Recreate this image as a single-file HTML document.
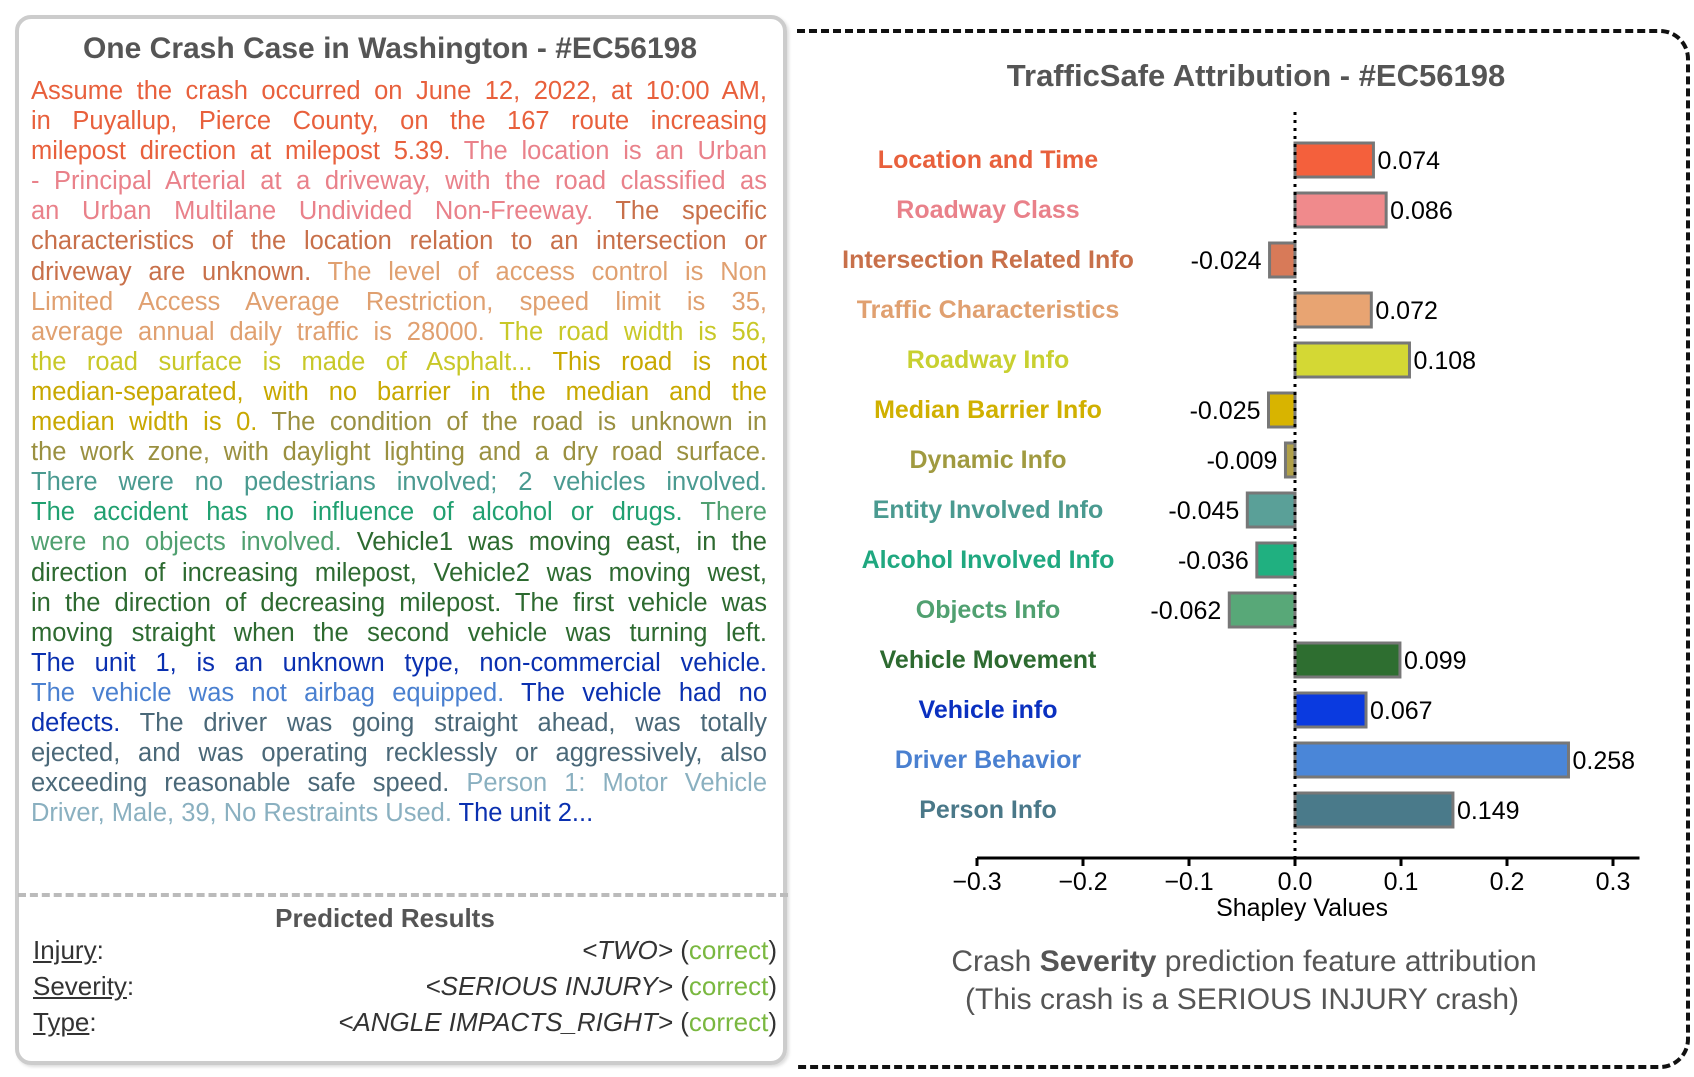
<!DOCTYPE html>
<html><head><meta charset="utf-8"><style>
body{margin:0;width:1694px;height:1077px;background:#fff;position:relative;overflow:hidden;font-family:"Liberation Sans",sans-serif}
#left{position:absolute;left:15px;top:15px;width:772px;height:1050px;border:4px solid #ccc;border-radius:16px;box-sizing:border-box;box-shadow:2px 2px 3px #ddd}
#ltitle{position:absolute;left:0;width:780px;top:32px;text-align:center;font-size:30px;font-weight:bold;color:#555}
#story{position:absolute;left:31px;top:76px;width:736px;font-size:25.5px;line-height:30.1px}
#story div{text-align:justify;text-align-last:justify;white-space:nowrap;height:30.1px}
#story div.last{text-align-last:left}
#divider{position:absolute;left:18px;top:893px;width:770px;border-top:4px dashed #bbb}
#pr{position:absolute;left:0;width:770px;top:903px;text-align:center;font-size:26px;font-weight:bold;color:#555}
.row{position:absolute;left:33px;width:744px;font-size:26px;color:#333;display:flex;justify-content:space-between}
.row u{text-decoration:underline}
.row i{font-style:italic}
.ok{color:#7ab840}
#right{position:absolute;left:797px;top:29px;width:893px;height:1040px;border:4px dashed #111;border-left:none;border-radius:0 30px 30px 0;box-sizing:border-box}
</style></head><body>
<div id="left"></div>
<div id="ltitle">One Crash Case in Washington - #EC56198</div>
<div id="story">
<div style="color:#e8603c">Assume the crash occurred on June 12, 2022, at 10:00 AM,</div>
<div style="color:#e8603c">in Puyallup, Pierce County, on the 167 route increasing</div>
<div><span style="color:#e8603c">milepost direction at milepost 5.39.</span> <span style="color:#e9818a">The location is an Urban</span></div>
<div style="color:#e9818a">- Principal Arterial at a driveway, with the road classified as</div>
<div><span style="color:#e9818a">an Urban Multilane Undivided Non-Freeway.</span> <span style="color:#c8704a">The specific</span></div>
<div style="color:#c8704a">characteristics of the location relation to an intersection or</div>
<div><span style="color:#c8704a">driveway are unknown.</span> <span style="color:#e0a070">The level of access control is Non</span></div>
<div style="color:#e0a070">Limited Access Average Restriction, speed limit is 35,</div>
<div><span style="color:#e0a070">average annual daily traffic is 28000.</span> <span style="color:#c8c828">The road width is 56,</span></div>
<div><span style="color:#c8c828">the road surface is made of Asphalt...</span> <span style="color:#c8a800">This road is not</span></div>
<div style="color:#c8a800">median-separated, with no barrier in the median and the</div>
<div><span style="color:#c8a800">median width is 0.</span> <span style="color:#9a9040">The condition of the road is unknown in</span></div>
<div style="color:#9a9040">the work zone, with daylight lighting and a dry road surface.</div>
<div style="color:#4a9a90">There were no pedestrians involved; 2 vehicles involved.</div>
<div><span style="color:#20a070">The accident has no influence of alcohol or drugs.</span> <span style="color:#50a070">There</span></div>
<div><span style="color:#50a070">were no objects involved.</span> <span style="color:#2d6a30">Vehicle1 was moving east, in the</span></div>
<div style="color:#2d6a30">direction of increasing milepost, Vehicle2 was moving west,</div>
<div style="color:#2d6a30">in the direction of decreasing milepost. The first vehicle was</div>
<div style="color:#2d6a30">moving straight when the second vehicle was turning left.</div>
<div style="color:#0a30b0">The unit 1, is an unknown type, non-commercial vehicle.</div>
<div><span style="color:#4a80d0">The vehicle was not airbag equipped.</span> <span style="color:#0a30b0">The vehicle had no</span></div>
<div><span style="color:#0a30b0">defects.</span> <span style="color:#4a6878">The driver was going straight ahead, was totally</span></div>
<div style="color:#4a6878">ejected, and was operating recklessly or aggressively, also</div>
<div><span style="color:#4a6878">exceeding reasonable safe speed.</span> <span style="color:#8ab0c0">Person 1: Motor Vehicle</span></div>
<div class="last"><span style="color:#8ab0c0">Driver, Male, 39, No Restraints Used.</span> <span style="color:#0a30b0">The unit 2...</span></div>
</div>
<div id="divider"></div>
<div id="pr">Predicted Results</div>
<div class="row" style="top:935px"><span><u>Injury</u>:</span><span><i>&lt;TWO&gt;</i> (<span class="ok">correct</span>)</span></div>
<div class="row" style="top:971px"><span><u>Severity</u>:</span><span><i>&lt;SERIOUS INJURY&gt;</i> (<span class="ok">correct</span>)</span></div>
<div class="row" style="top:1007px"><span><u>Type</u>:</span><span><i>&lt;ANGLE IMPACTS_RIGHT&gt;</i> (<span class="ok">correct</span>)</span></div>

<div id="right"></div>
<svg id="chart" width="1694" height="1077" style="position:absolute;left:0;top:0"></svg>
<script>
const categories=["Location and Time","Roadway Class","Intersection Related Info","Traffic Characteristics","Roadway Info","Median Barrier Info","Dynamic Info","Entity Involved Info","Alcohol Involved Info","Objects Info","Vehicle Movement","Vehicle info","Driver Behavior","Person Info"];
const values=[0.074,0.086,-0.024,0.072,0.108,-0.025,-0.009,-0.045,-0.036,-0.062,0.099,0.067,0.258,0.149];
const colors=["#f4603c","#f08a8c","#d87a58","#e8a472","#d4d834","#d8b400","#b0a048","#5aa098","#20b080","#58a878","#2e6e30","#0a3ae0","#4a86d8","#4a7a8a"];
const labelColors=["#e8603c","#e9818a","#c8704a","#e0a070","#c8d030","#d0b000","#a09a40","#4a9a90","#20a880","#50a070","#2d6a30","#0a30c0","#4a80d0","#4a7888"];
const ticks=[-0.3,-0.2,-0.1,0.0,0.1,0.2,0.3];
const tickLabels=["\u22120.3","\u22120.2","\u22120.1","0.0","0.1","0.2","0.3"];
const NS="http://www.w3.org/2000/svg";
const svg=document.getElementById('chart');
const x=v=>1295+v*1060;
const y=i=>160+i*50;
function mk(t,a){const e=document.createElementNS(NS,t);for(const k in a)e.setAttribute(k,a[k]);svg.appendChild(e);return e;}
let t=mk('text',{x:1256,y:86,'text-anchor':'middle','font-size':31,'font-weight':'bold',fill:'#555'});t.textContent="TrafficSafe Attribution - #EC56198";


categories.forEach((c,i)=>{
 const v=values[i];
 const r=mk('rect',{x:Math.min(x(0),x(v)),y:y(i)-17,width:Math.abs(x(v)-x(0)),height:34,fill:colors[i],stroke:'#777','stroke-width':3});
 
 
 const l=mk('text',{x:988,y:y(i)+8,'text-anchor':'middle','font-size':25,'font-weight':'bold',fill:labelColors[i]});l.textContent=c;
 
 
 const vt=mk('text',{x:v>=0?x(v)+4:x(v)-8,y:y(i)+9,'text-anchor':v>=0?'start':'end','font-size':25,fill:'#000'});vt.textContent=v.toFixed(3);
 
 
});
const zl=mk('line',{x1:x(0),x2:x(0),y1:112,y2:858,stroke:'#000','stroke-width':3,'stroke-dasharray':'3,5'});


const ax=mk('line',{x1:x(-0.3),x2:x(0.325),y1:858,y2:858,stroke:'#000','stroke-width':3});


ticks.forEach((v,i)=>{
 const tk=mk('line',{x1:x(v),x2:x(v),y1:858,y2:866,stroke:'#000','stroke-width':3});
 
 
 const tl=mk('text',{x:x(v),y:890,'text-anchor':'middle','font-size':25,fill:'#000'});tl.textContent=tickLabels[i];
 
 
});
const xt=mk('text',{x:1302,y:916,'text-anchor':'middle','font-size':25,fill:'#000'});xt.textContent="Shapley Values";


const c1=mk('text',{x:1244,y:971,'text-anchor':'middle','font-size':30,fill:'#555'});
c1.innerHTML='Crash <tspan font-weight="bold">Severity</tspan> prediction feature attribution';


const c2=mk('text',{x:1242,y:1009,'text-anchor':'middle','font-size':30,fill:'#555'});c2.textContent="(This crash is a SERIOUS INJURY crash)";


</script>
</body></html>
